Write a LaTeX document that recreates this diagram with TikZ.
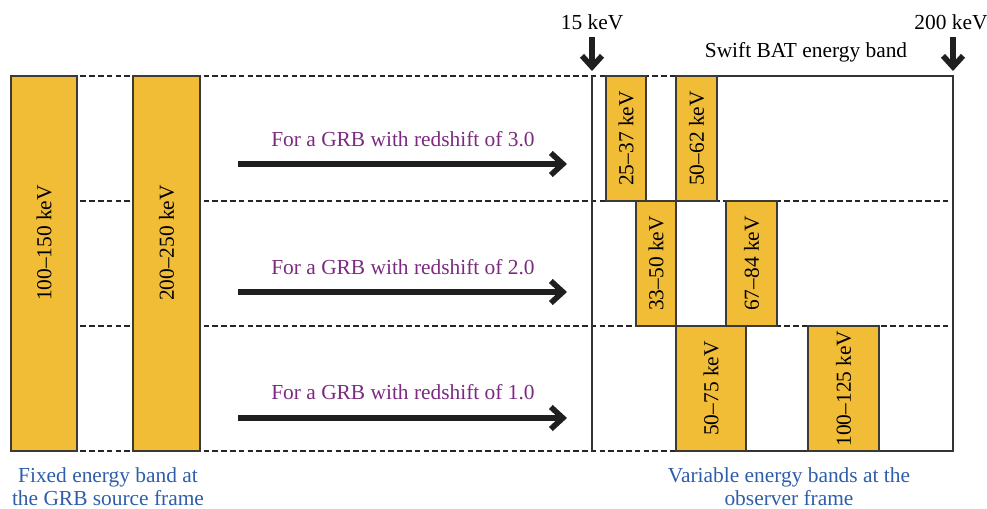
\documentclass[tikz,border=0pt]{standalone}
\usepackage{fontspec}
\setmainfont{Liberation Serif}
\usetikzlibrary{arrows.meta}
\definecolor{bandfill}{HTML}{F2BD36}
\definecolor{bandedge}{HTML}{3C3A36}
\definecolor{zlabel}{HTML}{7B2A80}
\definecolor{note}{HTML}{2E5EAB}
\tikzset{
  every node/.style={font=\fontsize{10.7}{11.5}\selectfont, inner sep=0pt},
  band/.style={draw=bandedge, line width=0.6pt, fill=bandfill, rotate=90, inner sep=0pt},
  divider/.style={draw=black!85, line width=0.9pt, dash pattern=on 2.8pt off 1.6pt},
  frame/.style={draw=black!80, line width=0.7pt},
  shift arrow/.style={line width=2.8pt, -{Straight Barb[length=6pt, width=11pt, line width=2.8pt]}, black!88},
  limit arrow/.style={line width=2.8pt, -{Straight Barb[length=5.5pt, width=10pt, line width=2.8pt]}, black!88},
  zlab/.style={text=zlabel},
  caption/.style={text=note, align=center},
}
\begin{document}
\begin{tikzpicture}[x=0.5pt, y=-0.5pt]
\useasboundingbox (0,0) rectangle (987,509);

% row dividers
\draw[divider] (10,76) -- (676,76);
\draw[divider] (10,201) -- (953,201);
\draw[divider] (10,326) -- (953,326);
\draw[divider] (10,451) -- (676,451);

% observer-frame window of the detector
\draw[frame] (676,76) -- (953,76) -- (953,451) -- (676,451);
\draw[frame] (592,76) -- (592,451);

% fixed source-frame bands
\node[band, minimum width=187.5pt, minimum height=33pt] (src1) at (44,263.5) {};
\node[band, minimum width=187.5pt, minimum height=33.5pt] (src2) at (166.5,263.5) {};
\node[rotate=90] (src1lab) at (44,243) {100–150 keV};
\node[rotate=90] (src2lab) at (166.5,243) {200–250 keV};

% redshifted bands, z = 3.0
\node[band, minimum width=62.5pt, minimum height=20pt] (z3a) at (626,138.5) {25–37 keV};
\node[band, minimum width=62.5pt, minimum height=20.5pt] (z3b) at (696.5,138.5) {50–62 keV};
% z = 2.0
\node[band, minimum width=62.5pt, minimum height=20pt] (z2a) at (656,263.5) {33–50 keV};
\node[band, minimum width=62.5pt, minimum height=25.5pt] (z2b) at (751.5,263.5) {67–84 keV};
% z = 1.0
\node[band, minimum width=62.5pt, minimum height=35pt] (z1a) at (711,388.5) {50–75 keV};
\node[band, minimum width=62.5pt, minimum height=35.5pt] (z1b) at (843.5,388.5) {100–125 keV};

% redshift arrows
\coordinate (t3) at (238,164); \coordinate (h3) at (567,164);
\coordinate (t2) at (238,292); \coordinate (h2) at (567,292);
\coordinate (t1) at (238,418); \coordinate (h1) at (567,418);
\draw[shift arrow] (t3) -- (h3);
\draw[shift arrow] (t2) -- (h2);
\draw[shift arrow] (t1) -- (h1);
\node[zlab] (lab3) at (403,139) {For a GRB with redshift of 3.0};
\node[zlab] (lab2) at (403,267) {For a GRB with redshift of 2.0};
\node[zlab] (lab1) at (403,392) {For a GRB with redshift of 1.0};

% detector limits
\node (lo) at (592,22) {15 keV};
\node (hi) at (951,22) {200 keV};
\coordinate (loTip) at (592,71);
\coordinate (hiTip) at (953,71);
\draw[limit arrow] (592,37) -- (loTip);
\draw[limit arrow] (953,37) -- (hiTip);
\node (bat) at (806,52) {Swift BAT energy band};

% captions
\node[caption] (capL) at (108,487) {Fixed energy band at\\the GRB source frame};
\node[caption] (capR) at (789,487) {Variable energy bands at the\\observer frame};
\end{tikzpicture}
\end{document}
